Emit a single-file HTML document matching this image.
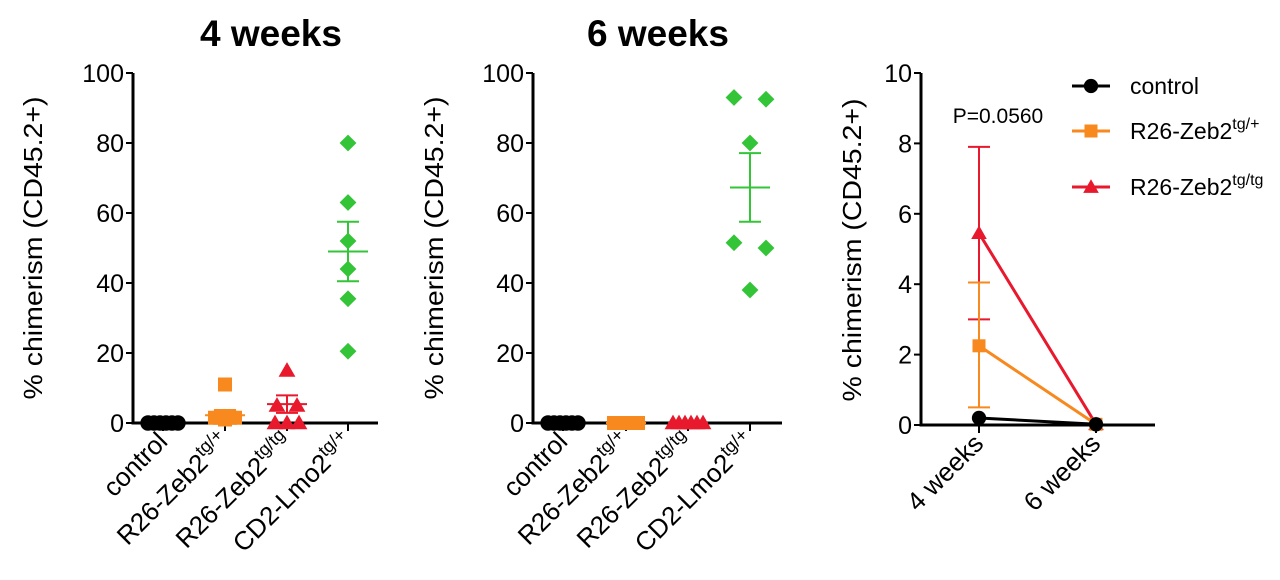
<!DOCTYPE html>
<html><head><meta charset="utf-8"><style>
html,body{margin:0;padding:0;background:#fff;width:1280px;height:580px;overflow:hidden}
text{font-family:"Liberation Sans",sans-serif}
</style></head><body>
<svg id="c" width="1280" height="580" viewBox="0 0 1280 580"></svg>
<script>
const categories=["control","R26-Zeb2","R26-Zeb2","CD2-Lmo2"];
const catSup=["","tg/+","tg/tg","tg/+"];
const colors=["#000000","#f7891f","#e8182d","#33c437"];
const shapes=["circle","square","triangle","diamond"];
const w4Values=[[0,0,0,0,0,0],[11,1.5,1.5,1.5,1.5,1],[15,5,5,0,0,0],[80,63,52,44,35.5,20.5]];
const w4Mean=[0.1,2.2,5.4,49];
const w4Sem=[0.1,1.5,2.5,8.5];
const w6Values=[[0,0,0,0,0,0],[0,0,0,0,0],[0,0,0,0,0,0],[93,92.5,80,51.5,50,38]];
const w6Mean=[0,0,0,67.3];
const w6Sem=[0,0,0,9.8];
const yTicks=[0,20,40,60,80,100];
const timeCats=["4 weeks","6 weeks"];
const lineNames=["control","R26-Zeb2","R26-Zeb2"];
const lineSup=["","tg/+","tg/tg"];
const lineMeans=[[0.2,0.02],[2.25,0.02],[5.45,0.02]];
const lineErrHi=[[0,0],[4.05,0],[7.9,0]];
const lineErrLo=[[0,0],[0.5,0],[3.0,0]];
const y3Ticks=[0,2,4,6,8,10];
const NS="http://www.w3.org/2000/svg";
const svg=document.getElementById('c');
function mk(tag,attrs,parent){const e=document.createElementNS(NS,tag);for(const k in attrs)e.setAttribute(k,attrs[k]);(parent||svg).appendChild(e);return e;}
function marker(shape,x,y,col,s,g){
  let e;
  if(shape==="circle")e=mk('circle',{cx:x,cy:y,r:s*0.55,fill:col},g);
  else if(shape==="square")e=mk('rect',{x:x-s/2,y:y-s/2,width:s,height:s,fill:col},g);
  else if(shape==="triangle")e=mk('polygon',{points:`${x},${y-s*0.6} ${x+s*0.6},${y+s*0.45} ${x-s*0.6},${y+s*0.45}`,fill:col},g);
  else e=mk('polygon',{points:`${x},${y-s*0.6} ${x+s*0.6},${y} ${x},${y+s*0.6} ${x-s*0.6},${y}`,fill:col},g);
  return e;
}
const jitter=[[-15,-9,-3,3,9,15],[0,-10,-5,5,10,0],[0,-10,10,-12,0,12],[0,0,0,0,0,0]];
const jitter6=[[-15,-9,-3,3,9,15],[-12,-6,0,6,12],[-15,-9,-3,3,9,15],[-16,16,0,-16,16,0]];
function scatterPanel(ax,xEnd,catXs,vals,means,sems,title,titleX,ytX,name,jit){
  const g=mk('g',{});
  
  
  const y=v=>423-v*3.5;
  const t=mk('text',{x:titleX,y:46,'font-size':37,'font-weight':'bold','text-anchor':'middle'},g);t.textContent=title;
  
  const yt=mk('text',{x:0,y:0,'font-size':26,'text-anchor':'middle',textLength:303,lengthAdjust:'spacingAndGlyphs',transform:`translate(${ytX},248) rotate(-90)`},g);yt.textContent="% chimerism (CD45.2+)";
  
  const ya=mk('line',{x1:ax,y1:y(0)+1.5,x2:ax,y2:y(100),stroke:'#000','stroke-width':3},g);
  
  mk('line',{x1:ax,y1:y(0),x2:xEnd,y2:y(0),stroke:'#000','stroke-width':3},g);
  yTicks.forEach(v=>{mk('line',{x1:ax-7,y1:y(v),x2:ax,y2:y(v),stroke:'#000','stroke-width':2},g);
    const l=mk('text',{x:ax-9,y:y(v)+9,'font-size':25,'text-anchor':'end'},g);l.textContent=v;
    });
  categories.forEach((c,i)=>{
    const cx=catXs[i];
    mk('line',{x1:cx,y1:y(0),x2:cx,y2:y(0)+8,stroke:'#000','stroke-width':2},g);
    const l=mk('text',{'font-size':26,'text-anchor':'end',transform:`translate(${cx+6},${443}) rotate(-45)`},g);
    
    l.appendChild(document.createTextNode(c));
    if(catSup[i]){const s=mk('tspan',{dy:-10,'font-size':18},l);s.textContent=catSup[i];}
    vals[i].forEach((v,j)=>{
      const off=jit[i][j]||0;
      const m=marker(shapes[i],cx+off,y(v),colors[i],14,g);
      
    });
    const col=colors[i];
    const mm=mk('line',{x1:cx-20,y1:y(means[i]),x2:cx+20,y2:y(means[i]),stroke:col,'stroke-width':2},g);
    
    if(sems[i]>0.5){
      mk('line',{x1:cx,y1:y(means[i]-sems[i]),x2:cx,y2:y(means[i]+sems[i]),stroke:col,'stroke-width':2},g);
      mk('line',{x1:cx-11,y1:y(means[i]+sems[i]),x2:cx+11,y2:y(means[i]+sems[i]),stroke:col,'stroke-width':2},g);
      mk('line',{x1:cx-11,y1:y(means[i]-sems[i]),x2:cx+11,y2:y(means[i]-sems[i]),stroke:col,'stroke-width':2},g);
    }
  });
}
scatterPanel(133,378,[163,225,287,348],w4Values,w4Mean,w4Sem,"4 weeks",271,42,"panel-4-weeks",jitter);
scatterPanel(533,782,[563,626,688,750],w6Values,w6Mean,w6Sem,"6 weeks",658,443,"panel-6-weeks",jitter6);
(function(){
  const g=mk('g',{});
  
  
  const ax=921,y=v=>425-v*35.2,xs=[979,1096];
  const yt=mk('text',{'font-size':26,'text-anchor':'middle',textLength:303,lengthAdjust:'spacingAndGlyphs',transform:`translate(861,250) rotate(-90)`},g);yt.textContent="% chimerism (CD45.2+)";
  
  mk('line',{x1:ax,y1:y(0)+1.5,x2:ax,y2:y(10),stroke:'#000','stroke-width':3},g);
  mk('line',{x1:ax,y1:y(0),x2:1155,y2:y(0),stroke:'#000','stroke-width':3},g);
  y3Ticks.forEach(v=>{mk('line',{x1:ax-7,y1:y(v),x2:ax,y2:y(v),stroke:'#000','stroke-width':2},g);
    const l=mk('text',{x:ax-9,y:y(v)+9,'font-size':25,'text-anchor':'end'},g);l.textContent=v;
    });
  timeCats.forEach((c,i)=>{
    mk('line',{x1:xs[i],y1:y(0),x2:xs[i],y2:y(0)+8,stroke:'#000','stroke-width':2},g);
    const l=mk('text',{'font-size':26,'text-anchor':'end',transform:`translate(${xs[i]+6},445) rotate(-45)`},g);l.textContent=c;
    
  });
  const p=mk('text',{x:998,y:123,'font-size':21,'text-anchor':'middle'},g);p.textContent="P=0.0560";
  
  for(let s=lineMeans.length-1;s>=0;s--){
    const col=colors[s];
    lineMeans[s].forEach((v,i)=>{
      if(lineErrHi[s][i]>0){
        mk('line',{x1:xs[i],y1:y(lineErrLo[s][i]),x2:xs[i],y2:y(lineErrHi[s][i]),stroke:col,'stroke-width':2},g);
        [lineErrLo[s][i],lineErrHi[s][i]].forEach(e=>mk('line',{x1:xs[i]-11,y1:y(e),x2:xs[i]+11,y2:y(e),stroke:col,'stroke-width':2},g));
      }
    });
    const pl=mk('polyline',{points:lineMeans[s].map((v,i)=>`${xs[i]},${y(v)}`).join(' '),fill:'none',stroke:col,'stroke-width':3},g);
    
    lineMeans[s].forEach((v,i)=>{const m=marker(shapes[s],xs[i],y(v),col,13,g);
      });
  }
  const ly=[86,131,187];
  lineNames.forEach((n,i)=>{
    const lg=mk('g',{},g);
    
    
    mk('line',{x1:1072,y1:ly[i],x2:1110,y2:ly[i],stroke:colors[i],'stroke-width':3},lg);
    marker(shapes[i],1091,ly[i],colors[i],13,lg);
    const t=mk('text',{x:1130,y:ly[i]+8,'font-size':23},lg);t.appendChild(document.createTextNode(n));
    if(lineSup[i]){const s=mk('tspan',{dy:-10,'font-size':16},t);s.textContent=lineSup[i];}
  });
})();
</script>
</body></html>
